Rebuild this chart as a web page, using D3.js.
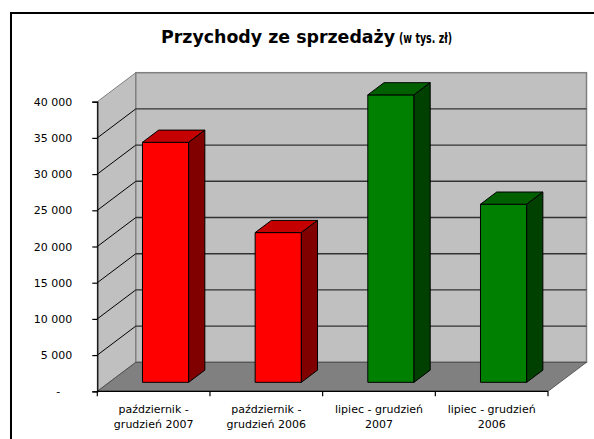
<!DOCTYPE html>
<html lang="pl">
  <head>
    <meta charset="utf-8">
    <title>Przychody ze sprzedaży</title>
    <script src="https://d3js.org/d3.v7.min.js"></script>
    <style>
      body { margin: 0; background: #fff; }
      svg text { font-family: "DejaVu Sans", Verdana, sans-serif; fill: #000; }
    </style>
  </head>
  <body>
    <div id="chart"></div>
    <script type="text/javascript">
      "use strict"

      // dane
      const categories = [
        ["październik -", "grudzień 2007"],
        ["październik -", "grudzień 2006"],
        ["lipiec - grudzień", "2007"],
        ["lipiec - grudzień", "2006"]
      ];
      const values = [33150, 20680, 39700, 24600];
      const yTicks = [0, 5000, 10000, 15000, 20000, 25000, 30000, 35000, 40000];

      // kolory (czerwone / zielone slupki)
      const faces = [
        {front: "#ff0000", top: "#c40000", side: "#800000"},
        {front: "#ff0000", top: "#c40000", side: "#800000"},
        {front: "#008000", top: "#006000", side: "#004000"},
        {front: "#008000", top: "#006000", side: "#004000"}
      ];

      var width = 594, height = 439;
      var x0 = 97.3, x1 = 548;      // przednia krawedz podlogi
      var DX = 38.5, DY = -29;      // glebokosc 3D
      var f0 = 0.31, f1 = 0.73;     // przod i tyl slupka (ulamek glebokosci)

      var svg = d3.select("#chart").append("svg")
          .attr("width", width)
          .attr("height", height);

      // ramka
      svg.append("rect")
        .attr("x", 11).attr("y", 13)
        .attr("width", 620).attr("height", 460)
        .attr("fill", "none").attr("stroke", "#000").attr("stroke-width", 2);

      // tytul
      svg.append("text")
        .attr("x", 161).attr("y", 43)
        .attr("font-size", 17.5).attr("font-weight", "bold")
        .attr("textLength", 234).attr("lengthAdjust", "spacingAndGlyphs")
        .text("Przychody ze sprzedaży");
      svg.append("text")
        .attr("x", 399).attr("y", 43)
        .attr("font-size", 14).attr("font-weight", "bold")
        .attr("textLength", 53).attr("lengthAdjust", "spacingAndGlyphs")
        .text("(w tys. zł)");

      var x = d3.scaleBand()
          .domain(d3.range(categories.length))
          .range([x0, x1])
          .paddingInner(0.59)
          .paddingOuter(0.295);

      var y = d3.scaleLinear()
          .domain([0, 40000])
          .range([391.3, 101.7]);

      var yTop = y(40000), yBot = y(0);
      var pts = p => p.map(d => d.join(",")).join(" ");

      // sciany i podloga
      svg.append("polygon")
        .attr("points", pts([[x0, yBot], [x0, yTop], [x0 + DX, yTop + DY], [x0 + DX, yBot + DY]]))
        .attr("fill", "#c0c0c0").attr("stroke", "#808080").attr("stroke-width", 1);
      svg.append("rect")
        .attr("x", x0 + DX).attr("y", yTop + DY)
        .attr("width", x1 - x0).attr("height", yBot - yTop)
        .attr("fill", "#c0c0c0").attr("stroke", "#808080").attr("stroke-width", 1.5);
      svg.append("polygon")
        .attr("points", pts([[x0, yBot], [x1, yBot], [x1 + DX, yBot + DY], [x0 + DX, yBot + DY]]))
        .attr("fill", "#808080").attr("stroke", "#404040").attr("stroke-width", 0.8);

      // linie siatki
      var grid = yTicks.filter(t => t > 0 && t < 40000);
      svg.append("g").selectAll("line")
        .data(grid)
        .enter().append("line")
          .attr("x1", x0).attr("x2", x0 + DX)
          .attr("y1", d => y(d)).attr("y2", d => y(d) + DY)
          .attr("stroke", "#000").attr("stroke-width", 1);
      svg.append("g").selectAll("line")
        .data(grid)
        .enter().append("line")
          .attr("x1", x0 + DX).attr("x2", x1 + DX)
          .attr("y1", d => y(d) + DY).attr("y2", d => y(d) + DY)
          .attr("stroke", "#333").attr("stroke-width", 1.4);

      // slupki
      var bw = x.bandwidth();
      var ddx = DX * (f1 - f0), ddy = DY * (f1 - f0);
      var bars = svg.append("g").selectAll("g")
        .data(values)
        .enter().append("g")
          .attr("stroke", "#000").attr("stroke-width", 1).attr("stroke-linejoin", "round");

      bars.append("rect")
        .attr("x", (d, i) => x(i) + DX * f0)
        .attr("y", d => y(d) + DY * f0)
        .attr("width", bw)
        .attr("height", d => y(0) - y(d))
        .attr("fill", (d, i) => faces[i].front);

      bars.append("polygon")
        .attr("points", (d, i) => {
          var fx = x(i) + DX * f0, fy = y(d) + DY * f0;
          return pts([[fx, fy], [fx + bw, fy], [fx + bw + ddx, fy + ddy], [fx + ddx, fy + ddy]]);
        })
        .attr("fill", (d, i) => faces[i].top);

      bars.append("polygon")
        .attr("points", (d, i) => {
          var fx = x(i) + DX * f0 + bw, fy = y(d) + DY * f0, fb = y(0) + DY * f0;
          return pts([[fx, fy], [fx + ddx, fy + ddy], [fx + ddx, fb + ddy], [fx, fb]]);
        })
        .attr("fill", (d, i) => faces[i].side);

      // os Y
      var yAxis = svg.append("g")
        .attr("transform", "translate(" + x0 + ",0)")
        .call(d3.axisLeft(y)
          .tickValues(yTicks)
          .tickSize(5)
          .tickPadding(20)
          .tickFormat(d => d === 0 ? "-" : d3.format(",")(d).replace(",", " ")));
      yAxis.select(".domain").attr("stroke", "#000").attr("stroke-width", 1.2);
      yAxis.selectAll(".tick line").attr("stroke", "#000").attr("stroke-width", 1.2);
      yAxis.selectAll(".tick text")
        .attr("font-size", 11)
        .attr("font-family", "DejaVu Sans, Verdana, sans-serif")
        .attr("dx", d => d === 0 ? -12 : 0);

      // os X
      var step = x.step();
      var xAxis = svg.append("g");
      xAxis.append("line")
        .attr("x1", x0).attr("x2", x1)
        .attr("y1", yBot).attr("y2", yBot)
        .attr("stroke", "#000").attr("stroke-width", 1.2);
      xAxis.selectAll("line.tk")
        .data(d3.range(categories.length + 1))
        .enter().append("line")
          .attr("class", "tk")
          .attr("x1", i => x0 + i * step).attr("x2", i => x0 + i * step)
          .attr("y1", yBot).attr("y2", yBot + 5)
          .attr("stroke", "#000").attr("stroke-width", 1.2);

      var labels = xAxis.selectAll("text")
        .data(categories)
        .enter().append("text")
          .attr("text-anchor", "middle")
          .attr("font-size", 11)
          .attr("transform", (d, i) => "translate(" + (x(i) + bw / 2) + ",0)");
      labels.selectAll("tspan")
        .data(d => d)
        .enter().append("tspan")
          .attr("x", 0)
          .attr("y", (d, j) => 413 + j * 15)
          .text(d => d);
    </script>
  </body>
</html>
